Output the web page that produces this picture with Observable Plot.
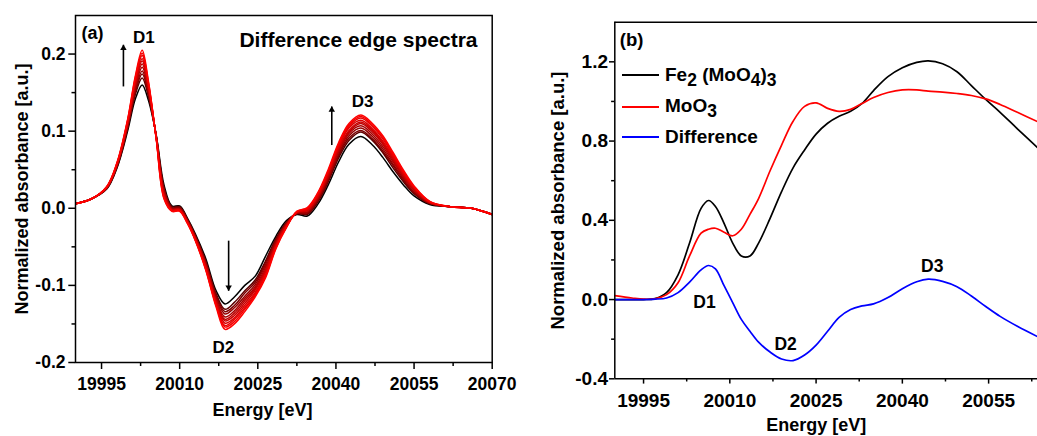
<!DOCTYPE html>
<html>
<head>
<meta charset="utf-8">
<script src="https://cdn.jsdelivr.net/npm/d3@7"></script>
<script src="https://cdn.jsdelivr.net/npm/@observablehq/plot@0.6"></script>
<style>
  html, body { margin: 0; padding: 0; background: #fff; overflow: hidden; }
  #fig { position: relative; width: 1037px; height: 436px; font-family: "Liberation Sans", Arial, sans-serif; font-weight: bold; color: #000; }
  .panel { position: absolute; top: 0; }
  .panel svg { overflow: visible; }
  .swatch { position: absolute; left: 621.7px; width: 37.6px; height: 2px; }
  .keytext { position: absolute; left: 665px; font-size: 19px; line-height: 20px; white-space: nowrap; }
  .keytext sub { font-size: 0.92em; vertical-align: -0.3em; line-height: 0; }
</style>
</head>
<body>
<div id="fig">
  <div id="panelA" class="panel" style="left:0; width:520px"></div>
  <div id="panelB" class="panel" style="left:530px; width:507px"></div>
  <div class="swatch" style="top:74px; background:#000000"></div>
  <div class="keytext" style="top:65px">Fe<sub>2</sub> (MoO<sub>4</sub>)<sub>3</sub></div>
  <div class="swatch" style="top:106px; background:#ff0000"></div>
  <div class="keytext" style="top:96px">MoO<sub>3</sub></div>
  <div class="swatch" style="top:136.3px; background:#0000ff"></div>
  <div class="keytext" style="top:127px">Difference</div>
</div>
<script>
// ---------- (a) difference edge spectra, one row per spectrum ----------
const energyA = [19990, 19993, 19996, 19998, 20000, 20001.5, 20002.8, 20004, 20005.5, 20007,
  20008.5, 20010, 20011.5, 20013, 20015, 20017, 20018.7, 20020.5, 20022.5, 20024.5,
  20026.5, 20028.5, 20030.5, 20032.5, 20034.5, 20036.5, 20038.5, 20040.5, 20042.5, 20044.8,
  20047, 20049, 20051, 20053, 20055, 20058, 20062, 20066, 20070];

const spectraA = [
  [.006, .012, .025, .053, .100, .142, .160, .140, .095, .030, .003, .003, -.013, -.033, -.065, -.107, -.124, -.115, -.100, -.088, -.062, -.036, -.016, -.008, -.010, .005, .030, .060, .083, .093, .082, .066, .047, .030, .016, .005, .002, .000, -.008],
  [.006, .012, .026, .054, .103, .148, .169, .145, .094, .026, .002, .002, -.014, -.035, -.068, -.111, -.131, -.122, -.107, -.093, -.068, -.039, -.018, -.007, -.008, .008, .034, .065, .088, .099, .088, .072, .052, .034, .019, .006, .002, .000, -.008],
  [.006, .012, .026, .055, .105, .151, .174, .148, .094, .025, .001, .001, -.015, -.036, -.070, -.113, -.134, -.126, -.110, -.096, -.070, -.041, -.019, -.007, -.007, .010, .036, .068, .091, .101, .090, .074, .055, .036, .020, .006, .002, .000, -.008],
  [.006, .012, .026, .056, .106, .154, .178, .150, .093, .023, .000, .000, -.016, -.037, -.071, -.115, -.137, -.129, -.114, -.099, -.073, -.042, -.020, -.006, -.006, .011, .038, .070, .094, .104, .093, .077, .057, .038, .021, .007, .002, .000, -.008],
  [.006, .012, .027, .057, .108, .157, .183, .153, .093, .021, -.001, -.001, -.017, -.038, -.073, -.118, -.141, -.133, -.117, -.102, -.076, -.044, -.021, -.006, -.005, .013, .040, .073, .097, .107, .096, .080, .060, .040, .023, .007, .002, .000, -.008],
  [.006, .012, .027, .057, .109, .160, .187, .155, .092, .019, -.001, -.001, -.017, -.038, -.074, -.120, -.144, -.136, -.120, -.104, -.079, -.046, -.021, -.006, -.003, .014, .042, .075, .099, .110, .099, .083, .062, .041, .024, .007, .002, .000, -.008],
  [.006, .012, .027, .058, .110, .162, .191, .157, .092, .018, -.002, -.002, -.018, -.039, -.075, -.121, -.146, -.139, -.123, -.106, -.081, -.047, -.022, -.005, -.003, .015, .044, .077, .101, .112, .101, .085, .064, .043, .025, .008, .002, .000, -.008],
  [.006, .012, .027, .058, .111, .165, .194, .159, .091, .016, -.002, -.002, -.018, -.040, -.076, -.123, -.149, -.142, -.126, -.109, -.083, -.048, -.023, -.005, -.002, .016, .045, .079, .104, .114, .103, .087, .066, .044, .026, .008, .002, .000, -.008],
  [.006, .012, .028, .059, .113, .167, .198, .161, .091, .015, -.003, -.003, -.019, -.041, -.078, -.125, -.152, -.144, -.129, -.111, -.086, -.049, -.024, -.005, -.001, .018, .047, .081, .106, .117, .106, .090, .068, .046, .027, .008, .002, .000, -.008],
  [.006, .012, .028, .059, .114, .170, .201, .163, .090, .013, -.003, -.003, -.019, -.041, -.079, -.126, -.154, -.147, -.131, -.113, -.088, -.051, -.024, -.004, .000, .019, .048, .083, .108, .119, .108, .092, .070, .047, .028, .009, .002, .000, -.008],
  [.006, .012, .028, .060, .115, .172, .205, .165, .090, .012, -.004, -.004, -.020, -.042, -.080, -.128, -.157, -.150, -.134, -.115, -.090, -.052, -.025, -.004, .001, .020, .050, .085, .110, .121, .110, .094, .072, .049, .029, .009, .002, .000, -.008]
];

const xTicksA = [19995, 20010, 20025, 20040, 20055, 20070];
const xMinorA = [20002.5, 20017.5, 20032.5, 20047.5, 20062.5];
const yTicksA = [-0.2, -0.1, 0.0, 0.1, 0.2];
const yMinorA = [-0.15, -0.05, 0.05, 0.15];

// feature labels and the arrows showing how they grow or deepen
const peakLabelsA = [
  {name: "D1", e: 20003.1, v: 0.222},
  {name: "D2", e: 20018.4, v: -0.180},
  {name: "D3", e: 20045.1, v: 0.138}
];
const trendArrowsA = [
  {e: 19999.2, from: 0.158, to: 0.212, up: true},
  {e: 20039.2, from: 0.082, to: 0.132, up: true},
  {e: 20019.4, from: -0.042, to: -0.107, up: false}
];

// ---------- (b) reference spectra and their difference ----------
const energyB = [19990, 19993, 19995, 19997, 19999, 20001, 20003, 20005, 20006.3, 20007.5,
  20009, 20010.5, 20012, 20013.5, 20015, 20017, 20019, 20021, 20023, 20025,
  20027, 20029, 20031, 20033, 20035, 20037.5, 20040, 20042.5, 20044.5, 20047,
  20049.5, 20052, 20054.5, 20057, 20060, 20063.5];
const feMoO = [0.000, 0.000, 0.000, 0.005, 0.035, 0.125, 0.285, 0.46, 0.50, 0.47,
  0.385, 0.285, 0.22, 0.22, 0.285, 0.41, 0.545, 0.665, 0.755, 0.835,
  0.89, 0.925, 0.95, 0.99, 1.055, 1.125, 1.17, 1.197, 1.205, 1.19,
  1.15, 1.08, 1.01, 0.945, 0.862, 0.767];
const moo3 = [0.02, 0.008, 0.002, 0.004, 0.025, 0.085, 0.22, 0.335, 0.355, 0.36,
  0.34, 0.322, 0.355, 0.43, 0.51, 0.65, 0.78, 0.9, 0.975, 0.993,
  0.965, 0.95, 0.96, 0.99, 1.02, 1.045, 1.058, 1.058, 1.052, 1.047,
  1.04, 1.03, 1.013, 0.985, 0.945, 0.898];
const difference = [0.0, 0.0, 0.0, 0.002, 0.008, 0.035, 0.088, 0.15, 0.172, 0.155,
  0.07, -0.015, -0.1, -0.16, -0.215, -0.265, -0.3, -0.308, -0.28, -0.23,
  -0.16, -0.09, -0.05, -0.032, -0.022, 0.01, 0.055, 0.09, 0.103, 0.092,
  0.065, 0.018, -0.035, -0.085, -0.135, -0.187];

const xTicksB = [19995, 20010, 20025, 20040, 20055];
const xMinorB = [20002.5, 20017.5, 20032.5, 20047.5, 20062.5];
const yTicksB = [-0.4, 0.0, 0.4, 0.8, 1.2];
const yMinorB = [-0.2, 0.2, 0.6, 1.0];
const peakLabelsB = [
  {name: "D1", e: 20005.6, v: -0.014},
  {name: "D2", e: 20019.7, v: -0.227},
  {name: "D3", e: 20045.2, v: 0.165}
];

const fontFamily = "'Liberation Sans', Arial, Helvetica, sans-serif";
const baseStyle = {fontFamily, fontWeight: "bold", fontSize: "17px", color: "#000", background: "transparent", overflow: "visible"};

// black for the first spectrum, shading to red for the last
const shade = d3.interpolateRgb.gamma(2.2)("#000000", "#ff0000");
const shadeA = spectraA.map((_, k) => shade(k / (spectraA.length - 1)));

// filled arrow heads: tip at the "to" value, drawn as triangles
const headsUp = trendArrowsA.filter(d => d.up);
const headsDown = trendArrowsA.filter(d => !d.up);

const plotA = Plot.plot({
  width: 520, height: 436,
  marginLeft: 75, marginRight: 28.3, marginTop: 15, marginBottom: 74,
  x: {domain: [19990, 20070]},
  y: {domain: [-0.2, 0.25]},
  style: baseStyle,
  marks: [
    ...spectraA.map((vals, k) => Plot.line(energyA, {
      x: d => d, y: (d, i) => vals[i],
      stroke: shadeA[k], strokeWidth: 1.5, curve: "catmull-rom", clip: true
    })),
    Plot.frame({stroke: "#000", strokeWidth: 1.5}),
    Plot.axisX(xTicksA, {tickSize: 7, tickPadding: 7.7, tickFormat: d => d.toFixed(0), label: null, fontSize: 17.5, strokeWidth: 1.5}),
    Plot.axisX(xMinorA, {tickSize: 4, tickFormat: () => "", label: null, strokeWidth: 1.5}),
    Plot.axisY(yTicksA, {tickSize: 6.7, tickPadding: 3.3, tickFormat: d => d.toFixed(1), label: null, fontSize: 17.5, strokeWidth: 1.5}),
    Plot.axisY(yMinorA, {tickSize: 3.5, tickFormat: () => "", label: null, strokeWidth: 1.5}),
    Plot.text(["Normalized absorbance [a.u.]"], {frameAnchor: "left", textAnchor: "middle", lineAnchor: "middle", rotate: -90, dx: -53.3, fontSize: 18}),
    Plot.text(["Energy [eV]"], {frameAnchor: "bottom", textAnchor: "middle", lineAnchor: "middle", dx: -21.4, dy: 48, fontSize: 18}),
    Plot.text(["(a)"], {frameAnchor: "top-left", textAnchor: "start", lineAnchor: "middle", dx: 6, dy: 18, fontSize: 18}),
    Plot.text(["Difference edge spectra"], {frameAnchor: "top-right", textAnchor: "end", lineAnchor: "middle", dx: -14.7, dy: 25, fontSize: 21}),
    Plot.text(peakLabelsA, {x: "e", y: "v", text: "name", fontSize: 17}),
    Plot.link(trendArrowsA, {x1: "e", x2: "e", y1: "from", y2: "to", stroke: "#000", strokeWidth: 1.6}),
    Plot.dot(headsUp, {x: "e", y: "to", symbol: "triangle", r: 2.4, fill: "#000", dy: 3.4}),
    Plot.dot(headsDown, {x: "e", y: "to", symbol: "triangle", r: 2.4, fill: "#000", rotate: 180, dy: -3.4})
  ]
});
document.getElementById("panelA").appendChild(plotA);

const rowsB = energyB.map((e, i) => ({e, fe: feMoO[i], mo: moo3[i], diff: difference[i]}));

const plotB = Plot.plot({
  width: 507, height: 436,
  marginLeft: 84.3, marginRight: 0, marginTop: 21.7, marginBottom: 57.7,
  x: {domain: [19990, 20063.5]},
  y: {domain: [-0.4, 1.4]},
  style: baseStyle,
  marks: [
    Plot.line(rowsB, {x: "e", y: "fe", stroke: "#000000", strokeWidth: 1.7, curve: "catmull-rom"}),
    Plot.line(rowsB, {x: "e", y: "mo", stroke: "#ff0000", strokeWidth: 1.7, curve: "catmull-rom"}),
    Plot.line(rowsB, {x: "e", y: "diff", stroke: "#0000ff", strokeWidth: 1.7, curve: "catmull-rom"}),
    Plot.ruleY([1.4], {stroke: "#000", strokeWidth: 1.5}),
    Plot.ruleY([-0.4], {stroke: "#000", strokeWidth: 1.5}),
    Plot.ruleX([19990], {stroke: "#000", strokeWidth: 1.5}),
    Plot.axisX(xTicksB, {tickSize: 5.3, tickPadding: 9.7, tickFormat: d => d.toFixed(0), label: null, fontSize: 19, strokeWidth: 1.5}),
    Plot.axisX(xMinorB, {tickSize: 3.2, tickFormat: () => "", label: null, strokeWidth: 1.5}),
    Plot.axisY(yTicksB, {tickSize: 5.3, tickPadding: 1.5, tickFormat: d => d.toFixed(1), label: null, fontSize: 19, strokeWidth: 1.5}),
    Plot.axisY(yMinorB, {tickSize: 3.2, tickFormat: () => "", label: null, strokeWidth: 1.5}),
    Plot.text(["Normalized absorbance [a.u.]"], {frameAnchor: "left", textAnchor: "middle", lineAnchor: "middle", rotate: -90, dx: -56.3, fontSize: 18.5}),
    Plot.text(["Energy [eV]"], {frameAnchor: "bottom", textAnchor: "middle", lineAnchor: "middle", dx: -9.9, dy: 46.5, fontSize: 18}),
    Plot.text(["(b)"], {frameAnchor: "top-left", textAnchor: "start", lineAnchor: "middle", dx: 5, dy: 17.5, fontSize: 18.5}),
    Plot.text(peakLabelsB, {x: "e", y: "v", text: "name", fontSize: 17.5})
  ]
});
document.getElementById("panelB").appendChild(plotB);
</script>
</body>
</html>
